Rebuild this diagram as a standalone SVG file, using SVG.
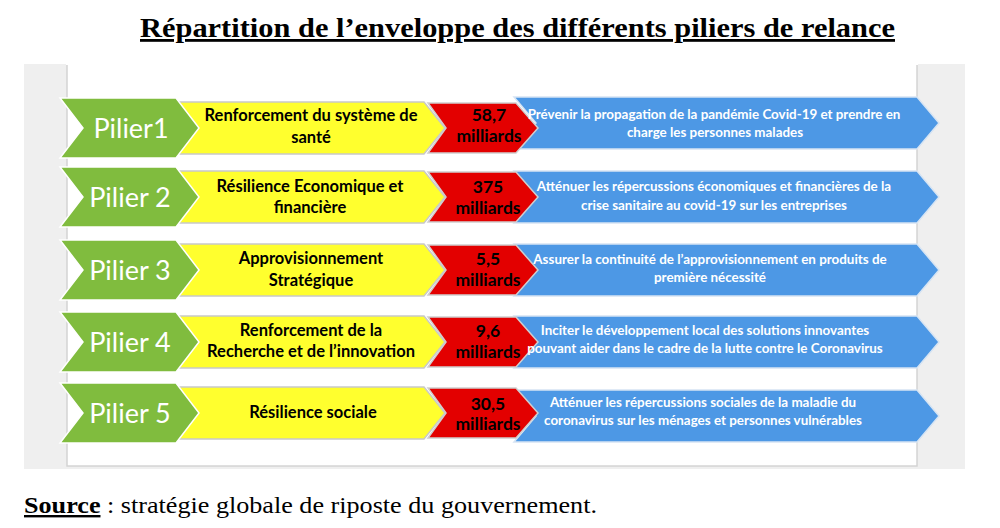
<svg xmlns="http://www.w3.org/2000/svg" xmlns:xlink="http://www.w3.org/1999/xlink" width="1000" height="528" viewBox="0 0 1000 528">
<style>
.title{font-family:"Liberation Serif","Times New Roman",serif;font-weight:bold;font-size:28px;fill:#000;text-decoration:underline}
.src{font-family:"Liberation Serif","Times New Roman",serif;font-size:24px;fill:#000}
.pil{font-family:Lato,"Open Sans",sans-serif;font-size:27px;fill:#fff;text-anchor:middle}
.yt{font-family:Lato,"Open Sans",sans-serif;font-weight:bold;font-size:16.5px;fill:#000;text-anchor:middle}
.rt{font-family:Lato,"Open Sans",sans-serif;font-weight:bold;font-size:17.5px;fill:#000;text-anchor:middle}
.bt{font-family:Lato,"Open Sans",sans-serif;font-weight:bold;font-size:13.4px;fill:#fff;text-anchor:middle}
.g{fill:#80bc3e;stroke:#ffffff;stroke-width:1.5}
.y{fill:#ffff2e;stroke:#c9c9c9;stroke-width:1.5}
.r{fill:#e30000;stroke:#cfcfcf;stroke-width:1.5}
.b{fill:#4d98e5;stroke:#d6e4f3;stroke-width:1.5}
</style>
<defs>
<polygon id="gs" class="g" points="60,-30 176,-30 199,0 176,30 60,30 83,0"/>
<polygon id="ys" class="y" points="170,-26 424,-26 445,0 424,26 170,26 190,0"/>
<polygon id="rs" class="r" points="428,-25 516,-25 538,0 516,25 428,25 446,0"/>
<polygon id="bs" class="b" points="514,-26 917,-26 939,0 917,26 514,26 536,0"/>
</defs>
<rect x="0" y="0" width="1000" height="528" fill="#ffffff"/>
<text class="title" x="140" y="37" textLength="755" lengthAdjust="spacingAndGlyphs">Répartition de l’enveloppe des différents piliers de relance</text>
<g id="panel">
<rect x="24" y="64" width="941" height="405" fill="#efefef"/>
<rect x="67" y="64" width="850" height="402" fill="#ffffff" stroke="#d4d4d4" stroke-width="1.5"/>
<rect x="66" y="62" width="852" height="3" fill="#ffffff"/>
</g>
<g id="connectors"></g>
<g id="row1">
<use xlink:href="#bs" y="123"/><use xlink:href="#rs" y="128"/><use xlink:href="#ys" y="128"/><use xlink:href="#gs" y="128"/>
<text class="pil" x="131" y="138">Pilier1</text>
<text class="yt" x="311" y="121">Renforcement du système de</text>
<text class="yt" x="311" y="143">santé</text>
<text class="rt" x="489" y="121">58,7</text>
<text class="rt" x="489" y="142">milliards</text>
<text class="bt" x="714" y="119">Prévenir la propagation de la pandémie Covid-19 et prendre en</text>
<text class="bt" x="715" y="137">charge les personnes malades</text>
</g>
<g id="row2">
<use xlink:href="#bs" y="197"/><use xlink:href="#rs" y="197"/><use xlink:href="#ys" y="197"/><use xlink:href="#gs" y="197"/>
<text class="pil" x="130" y="207">Pilier 2</text>
<text class="yt" x="310" y="192">Résilience Economique et</text>
<text class="yt" x="310" y="213">financière</text>
<text class="rt" x="488" y="193">375</text>
<text class="rt" x="488" y="214">milliards</text>
<text class="bt" x="714" y="191">Atténuer les répercussions économiques et financières de la</text>
<text class="bt" x="714" y="210">crise sanitaire au covid-19 sur les entreprises</text>
</g>
<g id="row3">
<use xlink:href="#bs" y="270"/><use xlink:href="#rs" y="270"/><use xlink:href="#ys" y="270"/><use xlink:href="#gs" y="270"/>
<text class="pil" x="130" y="280">Pilier 3</text>
<text class="yt" x="311" y="264">Approvisionnement</text>
<text class="yt" x="311" y="286">Stratégique</text>
<text class="rt" x="488" y="265">5,5</text>
<text class="rt" x="488" y="286">milliards</text>
<text class="bt" x="710" y="264">Assurer la continuité de l’approvisionnement en produits de</text>
<text class="bt" x="710" y="282">première nécessité</text>
</g>
<g id="row4">
<use xlink:href="#bs" y="342"/><use xlink:href="#rs" y="342"/><use xlink:href="#ys" y="342"/><use xlink:href="#gs" y="342"/>
<text class="pil" x="130" y="352">Pilier 4</text>
<text class="yt" x="311" y="336">Renforcement de la</text>
<text class="yt" x="311" y="357">Recherche et de l’innovation</text>
<text class="rt" x="488" y="337">9,6</text>
<text class="rt" x="488" y="358">milliards</text>
<text class="bt" x="705" y="335">Inciter le développement local des solutions innovantes</text>
<text class="bt" x="705" y="353">pouvant aider dans le cadre de la lutte contre le Coronavirus</text>
</g>
<g id="row5">
<use xlink:href="#bs" y="416"/><use xlink:href="#rs" y="413"/><use xlink:href="#ys" y="413"/><use xlink:href="#gs" y="413"/>
<text class="pil" x="130" y="423">Pilier 5</text>
<text class="yt" x="313" y="418">Résilience sociale</text>
<text class="rt" x="488" y="410">30,5</text>
<text class="rt" x="488" y="430">milliards</text>
<text class="bt" x="703" y="407">Atténuer les répercussions sociales de la maladie du</text>
<text class="bt" x="703" y="425">coronavirus sur les ménages et personnes vulnérables</text>
</g>
<text class="src" x="24" y="513" textLength="573" lengthAdjust="spacingAndGlyphs"><tspan font-weight="bold" text-decoration="underline">Source</tspan> : stratégie globale de riposte du gouvernement.</text>
</svg>
